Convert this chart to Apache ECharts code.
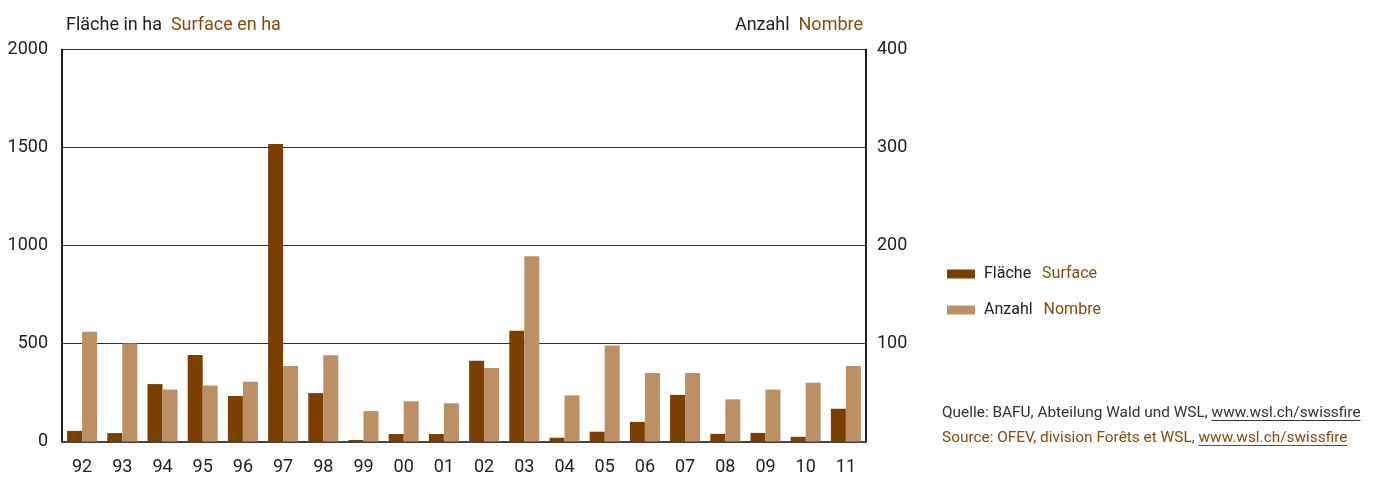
<!DOCTYPE html>
<html>
<head>
<meta charset="utf-8">
<style>
  html, body { margin: 0; padding: 0; background: #fff; }
  #chart { width: 1378px; height: 478px; }
</style>
</head>
<body>
<div id="chart"></div>
<script src="https://cdn.jsdelivr.net/npm/echarts@6/dist/echarts.min.js"></script>
<script>
// Jahre (92 - 11)
var years = ['92', '93', '94', '95', '96', '97', '98', '99', '00', '01',
             '02', '03', '04', '05', '06', '07', '08', '09', '10', '11'];
// Fläche in ha
var flaeche = [54, 43, 293, 441, 232, 1518, 247, 8, 38, 38,
               412, 565, 19, 50, 100, 238, 39, 44, 24, 167];
// Anzahl Brände
var anzahl = [112, 100, 53, 57, 61, 77, 88, 31, 41, 39,
              75, 189, 47, 98, 70, 70, 43, 53, 60, 77];

var dunkel = '#7b3f00';
var hell = '#bc8f65';
var braunText = '#8b4a0c';
var schwarz = '#222';
var font = 'Roboto, "Liberation Sans", sans-serif';

var chart = echarts.init(document.getElementById('chart'));

// Breite eines Textes messen (für die Unterstreichung der Links)
var cv = document.createElement('canvas').getContext('2d');
function textW(s, size) {
    cv.font = size + 'px ' + font;
    return cv.measureText(s).width;
}

var srcSize = 15.4;
var q1 = 'Quelle: BAFU, Abteilung Wald und WSL, ';
var q2 = 'Source: OFEV, division Forêts et WSL, ';
var url = 'www.wsl.ch/swissfire';
var x0 = 942;

function kopf(a, b) {
    return {
        text: '{a|' + a + '}  {b|' + b + '}',
        textStyle: { fontWeight: 'normal', rich: {
            a: { fontSize: 18, color: schwarz, fontFamily: font, fontWeight: 'normal' },
            b: { fontSize: 18, color: braunText, fontFamily: font, fontWeight: 'normal' }
        } }
    };
}
var t1 = kopf('Fläche in ha', 'Surface en ha');
t1.left = 61; t1.top = 11;
var t2 = kopf('Anzahl', 'Nombre');
t2.right = 1378 - 868; t2.top = 11;

var option = {
    animation: false,
    textStyle: { fontFamily: font },
    title: [t1, t2],
    legend: {
        orient: 'vertical',
        left: 942, top: 261,
        itemWidth: 28, itemHeight: 9,
        itemGap: 20,
        icon: 'rect',
        data: ['Fläche', 'Anzahl'],
        formatter: function (n) {
            return n === 'Fläche' ? '{a|Fläche}  {b|Surface}' : '{a|Anzahl}  {b|Nombre}';
        },
        textStyle: {
            padding: [0, 0, 0, 4],
            rich: {
                a: { fontSize: 16, color: schwarz, fontFamily: font },
                b: { fontSize: 16, color: braunText, fontFamily: font, padding: [0, 0, 0, 5] }
            }
        }
    },
    grid: { left: 62, right: 1378 - 866, top: 49.5, bottom: 36.5 },
    xAxis: {
        type: 'category',
        data: years,
        axisTick: { show: false },
        axisLine: { lineStyle: { color: '#444', width: 2 } },
        axisLabel: { fontSize: 18, color: schwarz, margin: 17 }
    },
    yAxis: [{
        type: 'value', min: 0, max: 2000, interval: 500,
        axisLine: { show: true, lineStyle: { color: schwarz, width: 2 } },
        axisTick: { show: false },
        splitLine: { lineStyle: { color: '#333', width: 1 } },
        axisLabel: {
            fontSize: 18, color: schwarz, margin: 14,
            formatter: function (v) { return String(v); }
        }
    }, {
        type: 'value', min: 0, max: 400, interval: 100,
        axisLine: { show: true, lineStyle: { color: schwarz, width: 2 } },
        axisTick: { show: false },
        splitLine: { show: false },
        axisLabel: {
            fontSize: 18, color: schwarz, margin: 11,
            formatter: function (v) { return v === 0 ? '' : String(v); }
        }
    }],
    series: [{
        name: 'Fläche', type: 'bar', yAxisIndex: 0,
        data: flaeche, barWidth: 15, barGap: '0%',
        itemStyle: { color: dunkel }
    }, {
        name: 'Anzahl', type: 'bar', yAxisIndex: 1,
        data: anzahl, barWidth: 15,
        itemStyle: { color: hell }
    }],
    graphic: [
        { type: 'text', left: x0, top: 406,
          style: { text: q1 + url, font: srcSize + 'px ' + font, fill: '#333' } },
        { type: 'text', left: x0, top: 431,
          style: { text: q2 + url, font: srcSize + 'px ' + font, fill: braunText } },
        { type: 'line', shape: { x1: x0 + textW(q1, srcSize), y1: 420.5,
              x2: x0 + textW(q1 + url, srcSize), y2: 420.5 },
          style: { stroke: '#333', lineWidth: 1 } },
        { type: 'line', shape: { x1: x0 + textW(q2, srcSize), y1: 445.5,
              x2: x0 + textW(q2 + url, srcSize), y2: 445.5 },
          style: { stroke: braunText, lineWidth: 1 } }
    ]
};

chart.setOption(option);
</script>
</body>
</html>
